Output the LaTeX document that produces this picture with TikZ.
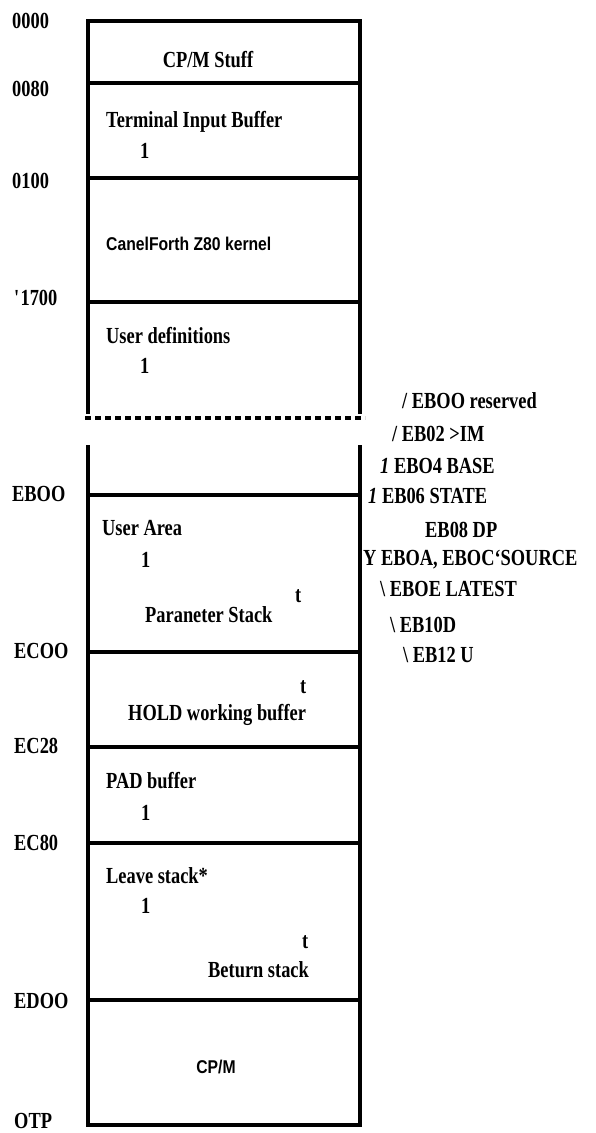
\documentclass[tikz,border=0pt]{standalone}
\usepackage{fontspec}
\setmainfont{Liberation Serif}[FakeStretch=0.8]
\newfontfamily\kernelfont{Liberation Sans}[FakeStretch=0.85]
\usepackage{tikz}
\tikzset{
	addr/.style={anchor=base west, inner sep=0pt,
			font=\fontsize{23}{26}\selectfont\bfseries},
	area/.style={addr},
	mid/.style={addr, anchor=base},
	sanslbl/.style={anchor=base west, inner sep=0pt,
			font=\kernelfont\fontsize{18.5}{22}\selectfont\bfseries},
	note/.style={addr},
	wall/.style={line width=3.2pt, line cap=rect},
	gap/.style={line width=3.6pt, dash pattern=on 6pt off 4pt}
}

\begin{document}
\begin{tikzpicture}[x=1pt, y=-1pt]
		\useasboundingbox (0,0) rectangle (596,1133);
		% upper part of the map
		\draw [wall]	(88,412) |- (360,21) -- (360,412);
		\foreach \y in {83,178,302}
			\draw [wall] (88,\y) -- (360,\y);
		\draw [gap]	(85,418) -- (365,418);
		% lower part of the map
		\draw [wall]	(88,447) |- (360,1125) -- (360,447);
		\foreach \y in {495,652,747,843,1000}
			\draw [wall] (88,\y) -- (360,\y);

		% addresses
		\node [addr] (a0000) at (12,28) {0000};
		\node [addr] (a0080) at (12,96) {0080};
		\node [addr] (a0100) at (12,188) {0100};
		\node [addr] (a1700) at (14,305) {\textquotesingle 1700};
		\node [addr] (aEB00) at (12,501) {EBOO};
		\node [addr] (aEC00) at (14,658) {ECOO};
		\node [addr] (aEC28) at (14,753) {EC28};
		\node [addr] (aEC80) at (14,850) {EC80};
		\node [addr] (aED00) at (14,1008) {EDOO};
		\node [addr] (aOTP) at (14,1128) {OTP};

		% areas
		\node [mid] (cpmstuff) at (208,67) {CP/M Stuff};
		\node [area] (tib) at (106,127) {Terminal Input Buffer};
		\node [area] (tibdn) at (140,158) {1};
		\node [sanslbl] (kernel) at (106,250) {CanelForth Z80 kernel};
		\node [area] (userdef) at (106,343) {User definitions};
		\node [area] (userdefdn) at (140,373) {1};
		\node [area] (userarea) at (102,535) {User Area};
		\node [area] (userareadn) at (141,567) {1};
		\node [area] (pstackup) at (295,602) {t};
		\node [area] (pstack) at (145,622) {Paraneter Stack};
		\node [area] (holdup) at (300,693) {t};
		\node [area] (hold) at (128,720) {HOLD working buffer};
		\node [area] (pad) at (106,788) {PAD buffer};
		\node [area] (paddn) at (141,820) {1};
		\node [area] (leave) at (106,883) {Leave stack*};
		\node [area] (leavedn) at (141,913) {1};
		\node [area] (rstackup) at (302,948) {t};
		\node [area] (rstack) at (208,977) {Beturn stack};
		\node [sanslbl, anchor=base] (cpm) at (216,1073) {CP/M};

		% user variables
		\node [note] (ures) at (402,408) {/ EBOO reserved};
		\node [note] (uin) at (392,441) {/ EB02 >IM};
		\node [note] (ubase) at (380,473) {{\itshape 1} EBO4 BASE};
		\node [note] (ustate) at (368,503) {{\itshape 1} EB06 STATE};
		\node [note] (udp) at (425,537) {EB08 DP};
		\node [note] (usource) at (363,565) {Y EBOA, EBOC‘SOURCE};
		\node [note] (ulatest) at (380,596) {\textbackslash{} EBOE LATEST};
		\node [note] (ud) at (390,632) {\textbackslash{} EB10D};
		\node [note] (uu) at (403,662) {\textbackslash{} EB12 U};
	\end{tikzpicture}
\end{document}
